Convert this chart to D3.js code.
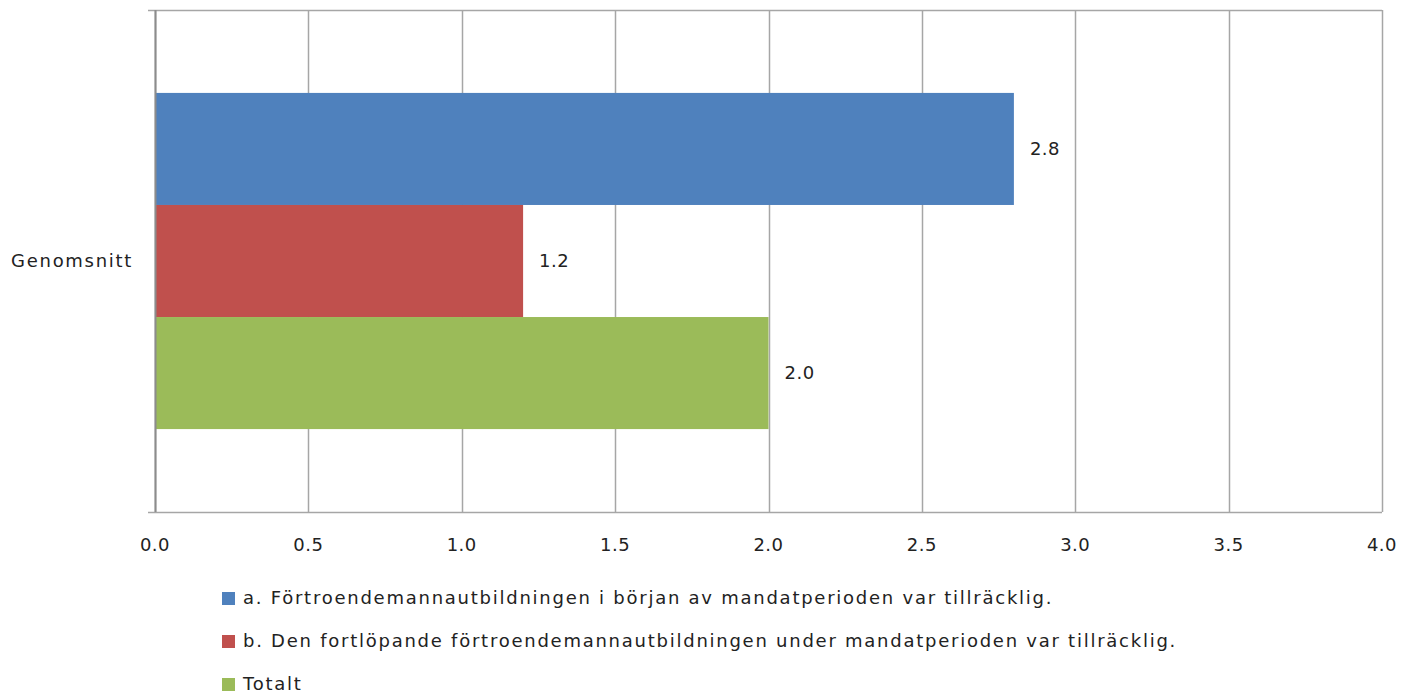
<!DOCTYPE html>
<html>
<head>
<meta charset="utf-8">
<script src="https://cdn.jsdelivr.net/npm/d3@7"></script>
<style>
  body { margin: 0; background: #fff; }
  svg { display: block; font-family: "DejaVu Sans", sans-serif; }
</style>
</head>
<body>
<div id="chart"></div>
<script>
// data
const categories = ["Genomsnitt"];
const seriesNames = [
    "a. Förtroendemannautbildningen i början av mandatperioden var tillräcklig.",
    "b. Den fortlöpande förtroendemannautbildningen under mandatperioden var tillräcklig.",
    "Totalt"
];
const seriesValues = [2.8, 1.2, 2.0];
const seriesColors = ["#4F81BD", "#C0504D", "#9BBB59"];
const xTicks = [0, 0.5, 1, 1.5, 2, 2.5, 3, 3.5, 4];

let width = 1415,
    height = 697,
    margin = {top: 10, right: 33, bottom: 185, left: 155};

let svg = d3.select("#chart")
    .append("svg")
    .attr("width", width)
    .attr("height", height);

let x = d3.scaleLinear()
    .domain([0, 4])
    .range([margin.left, width - margin.right]);

let y = d3.scaleBand()
    .domain(categories)
    .range([margin.top, height - margin.bottom]);

// bars inside the category band
let inner = d3.scaleBand()
    .domain(seriesNames)
    .range([0, y.bandwidth()])
    .paddingOuter(0.74)
    .paddingInner(0);

let gridColor = "#a6a6a6";
let textColor = "#222";
let fontSize = "18px";

// vertical grid lines
svg.append("g")
    .selectAll("line")
    .data(xTicks)
    .join("line")
    .attr("x1", d => Math.round(x(d)) + 0.5)
    .attr("x2", d => Math.round(x(d)) + 0.5)
    .attr("y1", margin.top)
    .attr("y2", height - margin.bottom)
    .attr("stroke", gridColor)
    .attr("stroke-width", 1.5);

// top and bottom lines (with little tick to the left)
svg.append("g")
    .selectAll("line")
    .data([margin.top, height - margin.bottom])
    .join("line")
    .attr("x1", margin.left - 7)
    .attr("x2", width - margin.right)
    .attr("y1", d => d + 0.5)
    .attr("y2", d => d + 0.5)
    .attr("stroke", gridColor)
    .attr("stroke-width", 1.5);

// bars
categories.forEach(cat => {
    svg.append("g")
        .selectAll("rect")
        .data(seriesValues)
        .join("rect")
        .attr("x", x(0) + 1)
        .attr("y", (d, i) => y(cat) + inner(seriesNames[i]))
        .attr("width", d => x(d) - x(0) - 1)
        .attr("height", inner.bandwidth())
        .attr("fill", (d, i) => seriesColors[i]);

    // value labels
    svg.append("g")
        .selectAll("text")
        .data(seriesValues)
        .join("text")
        .attr("x", d => x(d) + 16)
        .attr("y", (d, i) => y(cat) + inner(seriesNames[i]) + inner.bandwidth() / 2)
        .attr("dy", "0.35em")
        .attr("font-size", fontSize)
        .attr("letter-spacing", "0.5px")
        .attr("fill", textColor)
        .text(d => d.toFixed(1));
});

// left axis line
svg.append("line")
    .attr("x1", margin.left + 0.5)
    .attr("x2", margin.left + 0.5)
    .attr("y1", margin.top)
    .attr("y2", height - margin.bottom)
    .attr("stroke", "#8c8c8c")
    .attr("stroke-width", 2);

// category labels
svg.append("g")
    .selectAll("text")
    .data(categories)
    .join("text")
    .attr("x", margin.left - 22)
    .attr("y", d => y(d) + y.bandwidth() / 2)
    .attr("dy", "0.35em")
    .attr("text-anchor", "end")
    .attr("font-size", fontSize)
    .attr("letter-spacing", "1.7px")
    .attr("fill", textColor)
    .text(d => d);

// x tick labels
svg.append("g")
    .selectAll("text")
    .data(xTicks)
    .join("text")
    .attr("x", d => x(d))
    .attr("y", height - margin.bottom + 33)
    .attr("dy", "0.35em")
    .attr("text-anchor", "middle")
    .attr("font-size", fontSize)
    .attr("letter-spacing", "0.5px")
    .attr("fill", textColor)
    .text(d => d.toFixed(1));

// legend
let legend = svg.append("g")
    .attr("transform", "translate(222, 598)");

seriesNames.forEach((name, i) => {
    legend.append("rect")
        .attr("x", 0)
        .attr("y", i * 43 - 6)
        .attr("width", 13)
        .attr("height", 13)
        .attr("fill", seriesColors[i]);

    legend.append("text")
        .attr("x", 21)
        .attr("y", i * 43)
        .attr("dy", "0.35em")
        .attr("font-size", fontSize)
        .attr("letter-spacing", "1.75px")
        .attr("fill", textColor)
        .text(name);
});
</script>
</body>
</html>
